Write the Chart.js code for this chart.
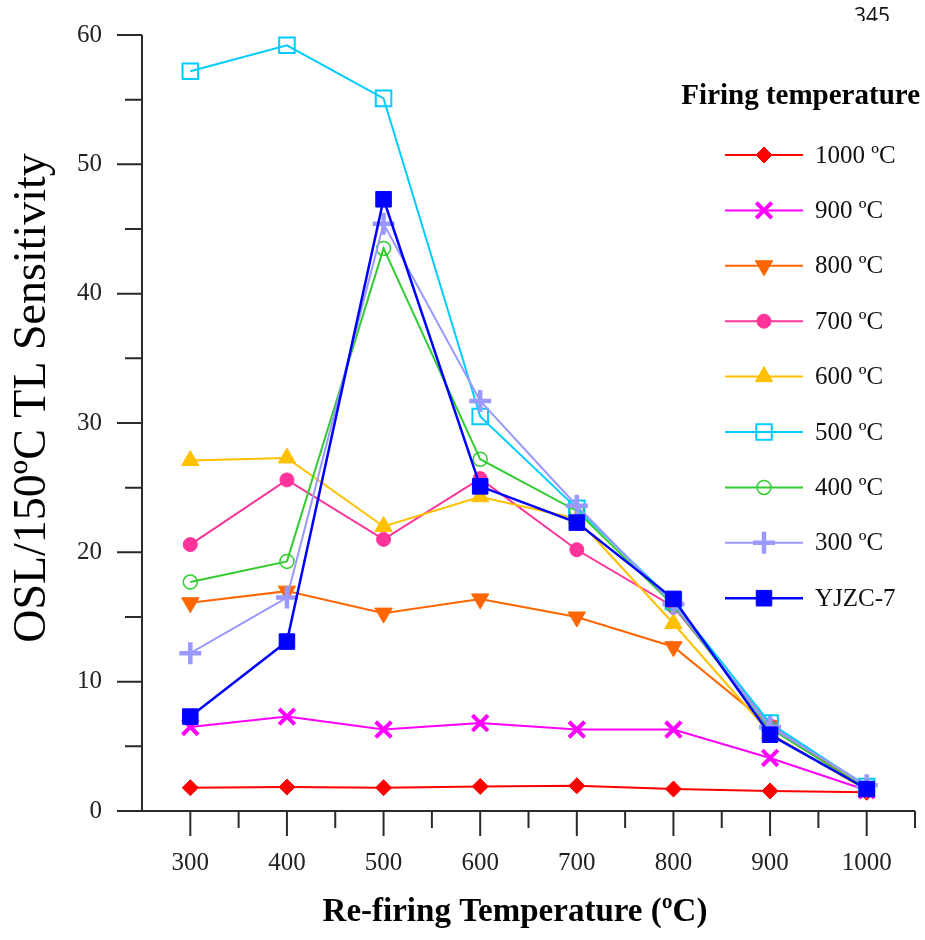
<!DOCTYPE html>
<html lang="en">
<head>
    <meta charset="UTF-8">
    <title>OSL/150ºC TL Sensitivity</title>
    <script src="https://cdn.jsdelivr.net/npm/chart.js@4.4.0/dist/chart.umd.min.js"></script>
    <style>
        body { margin: 0; background: #fff; }
        .wrap { position: relative; width: 925px; height: 940px; }
        .page-no {
            position: absolute; left: 854px; top: 0; height: 21px; overflow: hidden;
            font-family: "Open Sans", sans-serif; font-size: 21px; line-height: 30px; color: #111;
        }
    </style>
</head>
<body>
<div class="wrap">
    <canvas id="myChart"></canvas>
    <div class="page-no">345</div>
</div>
<script>
    // re-firing temperatures (x)
    var refiring = [300, 400, 500, 600, 700, 800, 900, 1000];

    // OSL / 150ºC TL sensitivity per firing temperature
    var t1000 = [1.8, 1.85, 1.8, 1.9, 1.95, 1.7, 1.55, 1.45];
    var t900  = [6.5, 7.3, 6.3, 6.8, 6.3, 6.3, 4.1, 1.6];
    var t800  = [16.1, 17.0, 15.3, 16.4, 15.0, 12.7, 6.6, 1.7];
    var t700  = [20.6, 25.6, 21.0, 25.7, 20.2, 15.8, 6.6, 1.6];
    var t600  = [27.1, 27.3, 22.0, 24.3, 22.6, 14.5, 6.0, 1.6];
    var t500  = [57.2, 59.2, 55.1, 30.5, 23.4, 16.2, 6.8, 1.9];
    var t400  = [17.7, 19.3, 43.5, 27.2, 23.2, 15.9, 6.4, 1.7];
    var t300  = [12.2, 16.5, 45.4, 31.7, 23.6, 16.0, 6.5, 2.0];
    var yjzc7 = [7.3, 13.1, 47.3, 25.1, 22.3, 16.4, 5.9, 1.7];

    var seriesLabels = ['1000 ºC', '900 ºC', '800 ºC', '700 ºC', '600 ºC', '500 ºC', '400 ºC', '300 ºC', 'YJZC-7'];
    var seriesValues = [t1000, t900, t800, t700, t600, t500, t400, t300, yjzc7];

    var styles = [
        { color: '#ff0000', pointStyle: 'rectRot', radius: 8, fill: true, bw: 1 },
        { color: '#ff00ff', pointStyle: 'crossRot', radius: 11, fill: false, bw: 4 },
        { color: '#ff6600', pointStyle: 'triangle', radius: 10, rotation: 180, fill: true, bw: 1 },
        { color: '#ff3399', pointStyle: 'circle', radius: 7, fill: true, bw: 1 },
        { color: '#ffc000', pointStyle: 'triangle', radius: 10, fill: true, bw: 1 },
        { color: '#00ccff', pointStyle: 'rect', radius: 11, fill: false, bw: 2 },
        { color: '#33cc33', pointStyle: 'circle', radius: 7, fill: false, bw: 1.5 },
        { color: '#9999ff', pointStyle: 'cross', radius: 11, fill: false, bw: 4.5 },
        { color: '#0000ff', pointStyle: 'rect', radius: 11, fill: true, bw: 1 }
    ];

    var datasets = seriesLabels.map(function (name, i) {
        var st = styles[i];
        return {
            label: name,
            data: seriesValues[i].map(function (v, j) { return { x: refiring[j], y: v }; }),
            borderColor: st.color,
            backgroundColor: st.color,
            borderWidth: i == 8 ? 2.5 : 2,
            pointStyle: st.pointStyle,
            pointRadius: st.radius,
            pointRotation: st.rotation || 0,
            pointBackgroundColor: st.fill ? st.color : 'rgba(0,0,0,0)',
            pointBorderColor: st.color,
            pointBorderWidth: st.bw,
            order: seriesLabels.length - 1 - i,
            tension: 0
        };
    });

    var AXIS = '#2a2a2a';
    var SERIF = '"Liberation Serif", "Times New Roman", serif';

    // axes, ticks, titles and legend
    var decor = {
        id: 'decor',
        beforeDatasetsDraw: function (chart) {
            var ctx = chart.ctx;
            var xs = chart.scales.x, ys = chart.scales.y;
            var ca = chart.chartArea;
            ctx.save();
            ctx.strokeStyle = AXIS;
            ctx.lineWidth = 2;
            ctx.beginPath();
            ctx.moveTo(ca.left, ca.top);
            ctx.lineTo(ca.left, ca.bottom);
            ctx.moveTo(ca.left - 25, ca.bottom);
            ctx.lineTo(ca.right, ca.bottom);
            ys.ticks.forEach(function (t) {
                var y = ys.getPixelForValue(t.value);
                var len = t.value % 10 == 0 ? 25 : 17;
                ctx.moveTo(ca.left - len, y);
                ctx.lineTo(ca.left, y);
            });
            xs.ticks.forEach(function (t) {
                if (t.value == xs.min) return;
                var x = xs.getPixelForValue(t.value);
                var len = t.value % 100 == 0 ? 25 : 17;
                ctx.moveTo(x, ca.bottom);
                ctx.lineTo(x, ca.bottom + len);
            });
            ctx.stroke();
            ctx.restore();
        },
        afterDraw: function (chart) {
            var ctx = chart.ctx;
            ctx.save();
            ctx.fillStyle = '#000';
            ctx.textAlign = 'center';
            ctx.textBaseline = 'middle';
            ctx.font = 'bold 33px ' + SERIF;
            ctx.fillText('Re-firing Temperature (ºC)', 515, 912);

            ctx.save();
            ctx.translate(33, 398);
            ctx.rotate(-Math.PI / 2);
            ctx.font = '46px ' + SERIF;
            ctx.fillText('OSL/150ºC TL Sensitivity', 0, 0);
            ctx.restore();

            // legend
            ctx.textAlign = 'right';
            ctx.font = 'bold 29px ' + SERIF;
            ctx.fillText('Firing temperature', 920, 97);
            ctx.textAlign = 'left';
            ctx.font = '25px ' + SERIF;
            chart.data.datasets.forEach(function (ds, i) {
                var y = 155 + i * 55.4;
                ctx.strokeStyle = ds.borderColor;
                ctx.lineWidth = ds.borderWidth;
                ctx.beginPath();
                ctx.moveTo(725, y);
                ctx.lineTo(803, y);
                ctx.stroke();
                ctx.fillStyle = ds.pointBackgroundColor;
                ctx.strokeStyle = ds.pointBorderColor;
                ctx.lineWidth = ds.pointBorderWidth;
                Chart.helpers.drawPoint(ctx, {
                    pointStyle: ds.pointStyle,
                    rotation: ds.pointRotation,
                    radius: ds.pointRadius,
                    borderWidth: ds.pointBorderWidth
                }, 764, y);
                ctx.fillStyle = '#111';
                ctx.fillText(ds.label, 815, y + 1);
            });
            ctx.restore();
        }
    };

    var ctx = document.getElementById('myChart').getContext('2d');
    var myChart = new Chart(ctx, {
        type: 'line',
        data: { datasets: datasets },
        options: {
            responsive: true,
            maintainAspectRatio: false,
            animation: false,
            layout: { autoPadding: false, padding: { top: 35, right: 10, left: 0, bottom: 0 } },
            plugins: { legend: { display: false }, tooltip: { enabled: false } },
            scales: {
                x: {
                    type: 'linear',
                    min: 250,
                    max: 1050,
                    // tick marks are drawn by the decor plugin; tickLength only spaces the labels
                    grid: { display: false, drawTicks: true, tickLength: 35 },
                    border: { display: false },
                    ticks: {
                        stepSize: 50,
                        padding: 2,
                        autoSkip: false,
                        maxRotation: 0,
                        minRotation: 0,
                        color: '#222',
                        font: { family: SERIF, size: 25 },
                        callback: function (v) { return v % 100 == 0 ? v : ''; }
                    },
                    afterFit: function (scale) { scale.height = 129; }
                },
                y: {
                    min: 0,
                    max: 60,
                    grid: { display: false, drawTicks: true, tickLength: 38 },
                    border: { display: false },
                    ticks: {
                        stepSize: 5,
                        padding: 2,
                        autoSkip: false,
                        color: '#222',
                        font: { family: SERIF, size: 25 },
                        callback: function (v) { return v % 10 == 0 ? v : ''; }
                    },
                    afterFit: function (scale) { scale.width = 142; }
                }
            }
        },
        plugins: [decor]
    });
</script>
</body>
</html>
